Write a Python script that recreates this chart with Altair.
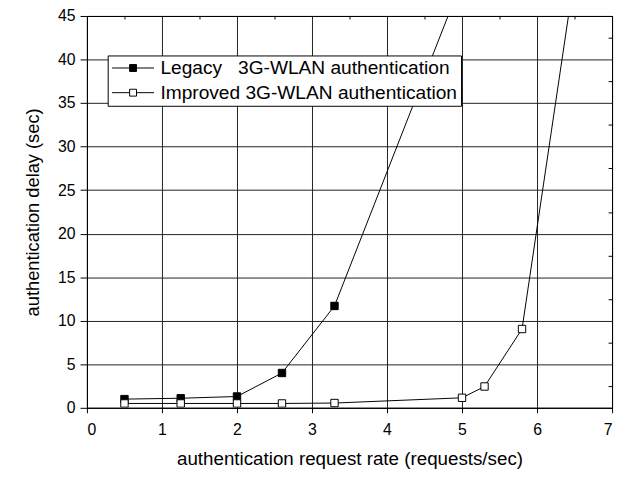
import altair as alt
import pandas as pd

legacy_name = "Legacy\u00a0\u00a0\u00a03G-WLAN authentication"
improved_name = "Improved 3G-WLAN authentication"

legacy_x = [0.5, 1.25, 2.0, 2.6, 3.3, 5.0]
legacy_y = [1.0, 1.1, 1.3, 4.0, 11.7, 49.1]
improved_x = [0.5, 1.25, 2.0, 2.6, 3.3, 5.0, 5.3, 5.8, 6.5]
improved_y = [0.5, 0.5, 0.5, 0.5, 0.55, 1.15, 2.45, 9.05, 49.7]

x_all = [i * 0.5 for i in range(15)]
x_minor = [i * 0.5 + 0.5 for i in range(0, 14, 2)]
y_all = [i * 2.5 for i in range(19)]
y_minor = [i * 5 + 2.5 for i in range(9)]

rows = []
for i, (a, b) in enumerate(zip(legacy_x, legacy_y)):
    rows.append({"series": legacy_name, "x": a, "y": b, "o": i})
for i, (a, b) in enumerate(zip(improved_x, improved_y)):
    rows.append({"series": improved_name, "x": a, "y": b, "o": 100 + i})
df = pd.DataFrame(rows)

W, H = 532, 397
xscale = alt.Scale(domain=[0, 7], nice=False, zero=False)
yscale = alt.Scale(domain=[0, 45], nice=False, zero=False)

minor_test_x = "datum.value % 1 !== 0"
minor_test_y = "datum.value % 5 !== 0"

x_axis = alt.Axis(
    values=x_all, format="~g",
    labelExpr="datum.value % 1 === 0 ? datum.label : ''",
    tickSize={"condition": {"test": minor_test_x, "value": 4}, "value": 5},
    gridOpacity={"condition": {"test": minor_test_x, "value": 0}, "value": 1},
    grid=True, gridColor="#222", gridWidth=1,
    tickColor="black", domainColor="black",
    labelFontSize=16, labelPadding=9, labelColor="black",
    title="authentication request rate (requests/sec)",
    titleFontSize=19, titleFontWeight="normal", titlePadding=12, titleColor="black",
)
y_axis = alt.Axis(
    values=y_all, format="~g",
    labelExpr="datum.value % 5 === 0 ? datum.label : ''",
    tickSize={"condition": {"test": minor_test_y, "value": 5}, "value": 7},
    gridOpacity={"condition": {"test": minor_test_y, "value": 0}, "value": 1},
    grid=True, gridColor="#222", gridWidth=1,
    tickColor="black", domainColor="black",
    labelFontSize=16, labelPadding=5, labelColor="black",
    title="authentication delay (sec)",
    titleFontSize=18.5, titleFontWeight="normal", titlePadding=15, titleColor="black",
)

lines = alt.Chart(df).mark_line(color="black", strokeWidth=1, clip=True).encode(
    x=alt.X("x:Q", scale=xscale, axis=x_axis),
    y=alt.Y("y:Q", scale=yscale, axis=y_axis),
    detail="series:N",
    order="o:Q",
)

# legend symbol: line through a small square (custom path)
sym = "M-2.5,0L-0.41,0M0.41,0L2.5,0M-0.41,-0.41L0.41,-0.41L0.41,0.41L-0.41,0.41Z"

points = alt.Chart(df).mark_point(
    shape="square", filled=True, size=56, stroke="black", strokeWidth=1,
    opacity=1, clip=True
).encode(
    x=alt.X("x:Q", scale=xscale),
    y=alt.Y("y:Q", scale=yscale),
    fill=alt.Fill(
        "series:N",
        scale=alt.Scale(domain=[legacy_name, improved_name], range=["black", "white"]),
        legend=alt.Legend(
            title=None, orient="none", legendX=21, legendY=40,
            symbolType=sym, symbolSize=289, symbolStrokeColor="black",
            symbolStrokeWidth=1, symbolFillColor="black", symbolOffset=13,
            labelFontSize=19.4, labelColor="black", labelOffset=18, labelLimit=400,
            rowPadding=4, padding=3, strokeColor="black", fillColor="white",
            cornerRadius=0,
        ),
    ),
    order="o:Q",
)

main = alt.layer(lines, points)

frame = alt.Chart(df).mark_point(opacity=0).encode(
    x=alt.X("x:Q", scale=xscale, axis=alt.Axis(
        orient="bottom", offset=-H, values=x_minor, labels=False, title=None,
        grid=False, tickSize=3, tickColor="black", domainColor="black")),
    y=alt.Y("y:Q", scale=yscale, axis=alt.Axis(
        orient="left", offset=-W, values=y_minor, labels=False, title=None,
        grid=False, tickSize=4, tickColor="black", domainColor="black")),
)

chart = alt.layer(main, frame).resolve_scale(x="independent", y="independent").properties(
    width=W, height=H,
    autosize=alt.AutoSizeParams(type="none"),
    padding={"left": 80, "top": 5, "right": 3, "bottom": 67},
).configure(
    font="Liberation Sans",
).configure_view(stroke="black", strokeWidth=1)

chart.save("out.html", embed_options={"renderer": "svg", "actions": False})
